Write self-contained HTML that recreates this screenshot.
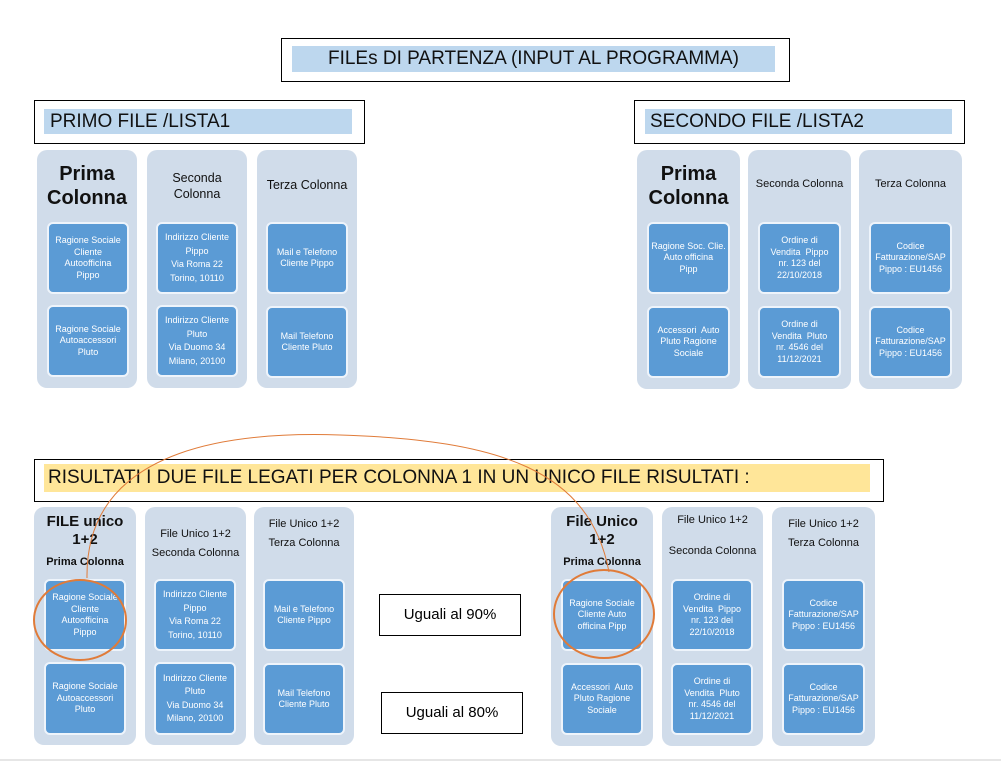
<!DOCTYPE html>
<html><head><meta charset="utf-8"><style>
body{margin:0;width:1001px;height:763px;background:#fff;position:relative;overflow:hidden;font-family:"Liberation Sans",sans-serif}
.a{position:absolute}
.frame{position:absolute;border:1px solid #000;background:#fff}
.band{position:absolute;background:#bdd7ee;font-size:19px;color:#111;line-height:26px;white-space:nowrap}
.col{position:absolute;background:#d0dcea;border-radius:10px}
.hd{position:absolute;left:0;right:0;text-align:center;color:#111}
.box{position:absolute;background:#5b9bd5;border:2px solid #eef4fb;border-radius:6px;color:#fff;font-size:9px;line-height:11.5px;text-align:center;display:flex;align-items:center;justify-content:center;box-sizing:border-box}
.u{position:absolute;border:1px solid #000;background:#fff;font-size:15px;text-align:center;line-height:40px}
</style></head><body>

<div class="frame" style="left:281px;top:38px;width:507px;height:42px"></div>
<div class="band" style="left:292px;top:46px;width:483px;height:26px;text-align:center">FILEs DI PARTENZA (INPUT AL PROGRAMMA)</div>

<div class="frame" style="left:34px;top:100px;width:329px;height:42px"></div>
<div class="band" style="left:44px;top:109px;width:308px;height:25px;padding-left:6px;box-sizing:border-box">PRIMO FILE /LISTA1</div>
<div class="frame" style="left:634px;top:100px;width:329px;height:42px"></div>
<div class="band" style="left:645px;top:109px;width:307px;height:25px;padding-left:5px;box-sizing:border-box">SECONDO FILE /LISTA2</div>

<!-- top-left -->
<div class="col" style="left:37px;top:150px;width:100px;height:238px"><div class="hd" style="top:12px;font-size:20px;font-weight:bold;line-height:24px">Prima<br>Colonna</div></div>
<div class="col" style="left:147px;top:150px;width:100px;height:238px"><div class="hd" style="top:20px;font-size:12.5px;line-height:16px">Seconda<br>Colonna</div></div>
<div class="col" style="left:257px;top:150px;width:100px;height:238px"><div class="hd" style="top:28px;font-size:12.5px">Terza Colonna</div></div>
<div class="box" style="left:47px;top:222px;width:82px;height:72px">Ragione Sociale<br>Cliente<br>Autoofficina<br>Pippo</div>
<div class="box" style="left:47px;top:305px;width:82px;height:72px">Ragione Sociale<br>Autoaccessori<br>Pluto</div>
<div class="box" style="left:156px;top:222px;width:82px;height:72px;line-height:13.5px">Indirizzo Cliente<br>Pippo<br>Via Roma 22<br>Torino, 10110</div>
<div class="box" style="left:156px;top:305px;width:82px;height:72px;line-height:13.5px">Indirizzo Cliente<br>Pluto<br>Via Duomo 34<br>Milano, 20100</div>
<div class="box" style="left:266px;top:222px;width:82px;height:72px">Mail e Telefono<br>Cliente Pippo</div>
<div class="box" style="left:266px;top:306px;width:82px;height:72px">Mail Telefono<br>Cliente Pluto</div>

<!-- top-right -->
<div class="col" style="left:637px;top:150px;width:103px;height:239px"><div class="hd" style="top:12px;font-size:20px;font-weight:bold;line-height:24px">Prima<br>Colonna</div></div>
<div class="col" style="left:748px;top:150px;width:103px;height:239px"><div class="hd" style="top:28px;font-size:11px">Seconda Colonna</div></div>
<div class="col" style="left:859px;top:150px;width:103px;height:239px"><div class="hd" style="top:28px;font-size:11px">Terza Colonna</div></div>
<div class="box" style="left:647px;top:222px;width:83px;height:72px">Ragione Soc. Clie.<br>Auto officina<br>Pipp</div>
<div class="box" style="left:647px;top:306px;width:83px;height:72px">Accessori&nbsp; Auto<br>Pluto Ragione<br>Sociale</div>
<div class="box" style="left:758px;top:222px;width:83px;height:72px">Ordine di<br>Vendita&nbsp; Pippo<br>nr. 123 del<br>22/10/2018</div>
<div class="box" style="left:758px;top:306px;width:83px;height:72px">Ordine di<br>Vendita&nbsp; Pluto<br>nr. 4546 del<br>11/12/2021</div>
<div class="box" style="left:869px;top:222px;width:83px;height:72px">Codice<br>Fatturazione/SAP<br>Pippo : EU1456</div>
<div class="box" style="left:869px;top:306px;width:83px;height:72px">Codice<br>Fatturazione/SAP<br>Pippo : EU1456</div>

<!-- results -->
<div class="frame" style="left:34px;top:459px;width:848px;height:41px"></div>
<div class="band" style="left:44px;top:464px;width:826px;height:28px;background:#ffe699;line-height:28px;padding-left:4px;box-sizing:border-box">RISULTATI I DUE FILE LEGATI PER COLONNA 1 IN UN UNICO FILE RISULTATI :</div>

<div class="col" style="left:34px;top:507px;width:102px;height:238px"><div class="hd" style="top:6px;font-size:15px;font-weight:bold;line-height:18px">FILE unico<br>1+2</div><div class="hd" style="top:49px;font-size:11px;font-weight:bold">Prima Colonna</div></div>
<div class="col" style="left:145px;top:507px;width:101px;height:238px"><div class="hd" style="top:18px;font-size:11px;line-height:19px">File Unico 1+2<br>Seconda Colonna</div></div>
<div class="col" style="left:254px;top:507px;width:100px;height:238px"><div class="hd" style="top:8px;font-size:11px;line-height:19px">File Unico 1+2<br>Terza Colonna</div></div>
<div class="box" style="left:44px;top:579px;width:82px;height:72px">Ragione Sociale<br>Cliente<br>Autoofficina<br>Pippo</div>
<div class="box" style="left:44px;top:662px;width:82px;height:73px">Ragione Sociale<br>Autoaccessori<br>Pluto</div>
<div class="box" style="left:154px;top:579px;width:82px;height:72px;line-height:13.5px">Indirizzo Cliente<br>Pippo<br>Via Roma 22<br>Torino, 10110</div>
<div class="box" style="left:154px;top:662px;width:82px;height:73px;line-height:13.5px">Indirizzo Cliente<br>Pluto<br>Via Duomo 34<br>Milano, 20100</div>
<div class="box" style="left:263px;top:579px;width:82px;height:72px">Mail e Telefono<br>Cliente Pippo</div>
<div class="box" style="left:263px;top:663px;width:82px;height:72px">Mail Telefono<br>Cliente Pluto</div>

<div class="u" style="left:379px;top:594px;width:140px;height:40px">Uguali al 90%</div>
<div class="u" style="left:381px;top:692px;width:140px;height:40px">Uguali al 80%</div>

<div class="col" style="left:551px;top:507px;width:102px;height:239px"><div class="hd" style="top:6px;font-size:15px;font-weight:bold;line-height:18px">File Unico<br>1+2</div><div class="hd" style="top:49px;font-size:11px;font-weight:bold">Prima Colonna</div></div>
<div class="col" style="left:662px;top:507px;width:101px;height:239px"><div class="hd" style="top:7px;font-size:11px">File Unico 1+2</div><div class="hd" style="top:38px;font-size:11px">Seconda Colonna</div></div>
<div class="col" style="left:772px;top:507px;width:103px;height:239px"><div class="hd" style="top:8px;font-size:11px;line-height:19px">File Unico 1+2<br>Terza Colonna</div></div>
<div class="box" style="left:561px;top:579px;width:82px;height:72px">Ragione Sociale<br>Cliente Auto<br>officina Pipp</div>
<div class="box" style="left:561px;top:663px;width:82px;height:72px">Accessori&nbsp; Auto<br>Pluto Ragione<br>Sociale</div>
<div class="box" style="left:671px;top:579px;width:82px;height:72px">Ordine di<br>Vendita&nbsp; Pippo<br>nr. 123 del<br>22/10/2018</div>
<div class="box" style="left:671px;top:663px;width:82px;height:72px">Ordine di<br>Vendita&nbsp; Pluto<br>nr. 4546 del<br>11/12/2021</div>
<div class="box" style="left:782px;top:579px;width:83px;height:72px">Codice<br>Fatturazione/SAP<br>Pippo : EU1456</div>
<div class="box" style="left:782px;top:663px;width:83px;height:72px">Codice<br>Fatturazione/SAP<br>Pippo : EU1456</div>

<svg class="a" style="left:0;top:0" width="1001" height="763">
<path d="M87,578 C85,440 250,432 340,435 C500,440 590,470 609,572" fill="none" stroke="#e07b39" stroke-width="1"/>
<ellipse cx="80" cy="620" rx="46" ry="40" fill="none" stroke="#e07b39" stroke-width="2"/>
<ellipse cx="604" cy="614" rx="50" ry="44" fill="none" stroke="#e07b39" stroke-width="2"/>
<line x1="0" y1="760" x2="1001" y2="760" stroke="#ccc" stroke-width="1"/>
</svg>
</body></html>
